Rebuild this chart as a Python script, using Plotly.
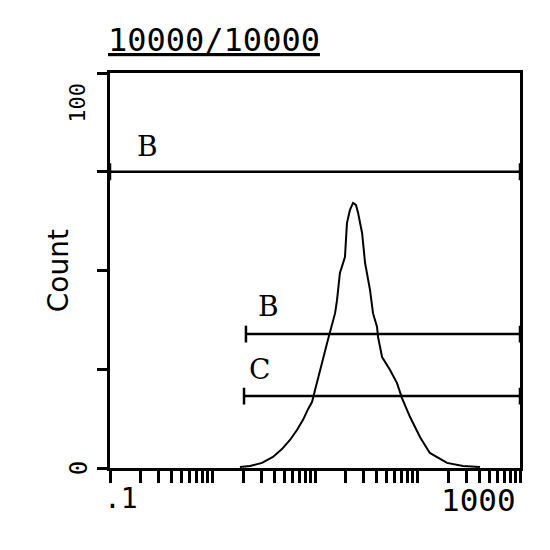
import math
import plotly.graph_objects as go

# Histogram trace (x: channel value on log scale, y: count)
hist_x = [1.85, 2.32, 3.04, 3.89, 4.76, 5.70, 6.67, 7.64, 8.55, 9.35, 10.0, 10.7, 11.7, 13.1,
          14.0, 15.7, 16.4, 17.5, 19.6, 20.5, 21.9, 23.5, 25.1, 26.3, 28.8, 30.8, 34.4, 36.8,
          40.3, 41.2, 45.1, 54.0, 63.1, 70.6, 84.6, 106, 132, 194, 278, 407]
hist_y = [0.25, 0.5, 1.3, 2.8, 4.8, 7.1, 9.6, 12.2, 14.9, 16.7, 19.7, 23.0, 26.6, 31.6,
          34.2, 39.2, 42.5, 49.4, 53.4, 62.0, 65.3, 67.1, 66.6, 64.6, 59.5, 51.9, 45.1, 39.2,
          35.7, 33.2, 28.1, 24.8, 21.5, 17.7, 12.9, 7.8, 3.8, 1.3, 0.5, 0.25]

# Gates: name, start, end, level, label position
gate_names = ["B", "B", "C"]
gate_start = [0.1, 2.12, 2.03]
gate_end = [1000, 1000, 1000]
gate_level = [75, 33.9, 18.2]
gate_label_x = [0.18, 2.7, 2.2]
gate_label_y = [77, 36.5, 20.5]

title_text = "10000/10000"
y_title = "Count"
x_tick_labels = [".1", "1000"]
y_tick_labels = ["0", "100"]

decades = [0.1, 1, 10, 100]
x_ticks = [d * m for d in decades for m in range(1, 10)] + [1000]

fig = go.Figure()

fig.add_trace(go.Scatter(x=hist_x, y=hist_y, mode="lines",
                         line=dict(color="black", width=2), showlegend=False,
                         hoverinfo="skip"))

for name, xs, xe, lv, lx, ly in zip(gate_names, gate_start, gate_end, gate_level,
                                     gate_label_x, gate_label_y):
    fig.add_trace(go.Scatter(x=[xs, xe], y=[lv, lv], mode="lines+markers",
                             line=dict(color="black", width=2.5),
                             marker=dict(symbol="line-ns", size=12,
                                         line=dict(color="black", width=2.5)),
                             showlegend=False, hoverinfo="skip"))
    fig.add_annotation(x=math.log10(lx), y=ly, text=name, showarrow=False,
                       font=dict(family="DejaVu Serif", size=28, color="black"),
                       xanchor="left", yanchor="bottom", borderpad=0)

# Title
fig.add_annotation(xref="paper", yref="paper", x=-0.01, y=1.03, text="<u>" + title_text + "</u>",
                   showarrow=False, xanchor="left", yanchor="bottom",
                   font=dict(family="DejaVu Sans Mono", size=32, color="black"))

# x tick labels
fig.add_annotation(xref="paper", x=-0.02, yref="paper", y=0, text=x_tick_labels[0],
                   showarrow=False, xanchor="left", yanchor="top", yshift=-12,
                   font=dict(family="DejaVu Sans Mono", size=28, color="black"))
fig.add_annotation(xref="paper", x=1, yref="paper", y=0, text=x_tick_labels[1],
                   showarrow=False, xanchor="right", yanchor="top", yshift=-12, xshift=-2,
                   font=dict(family="DejaVu Sans Mono", size=31, color="black"))

# y tick labels (rotated)
fig.add_annotation(xref="paper", x=-0.075, y=0, text=y_tick_labels[0], showarrow=False,
                   textangle=-90, xanchor="center", yanchor="middle",
                   font=dict(family="DejaVu Sans Mono", size=24, color="black"))
fig.add_annotation(xref="paper", x=-0.08, y=92.5, text=y_tick_labels[1], showarrow=False,
                   textangle=-90, xanchor="center", yanchor="middle",
                   font=dict(family="DejaVu Sans Mono", size=22, color="black"))

# y title
fig.add_annotation(xref="paper", yref="paper", x=-0.125, y=0.5, text=y_title, showarrow=False,
                   textangle=-90, xanchor="center", yanchor="middle",
                   font=dict(family="DejaVu Sans", size=28, color="black"))

fig.update_layout(
    width=550, height=550,
    margin=dict(l=102, r=38, t=65, b=90),
    paper_bgcolor="white", plot_bgcolor="white",
    xaxis=dict(type="log", range=[-1, 3], showgrid=False, zeroline=False,
               showline=True, linecolor="black", linewidth=2.5, mirror=True,
               tickvals=x_ticks, ticktext=[""] * len(x_ticks),
               ticks="outside", ticklen=12, tickwidth=2.5, tickcolor="black"),
    yaxis=dict(range=[0, 100], showgrid=False, zeroline=False,
               showline=True, linecolor="black", linewidth=2.5, mirror=True,
               tickvals=[0, 25, 50, 75, 100], ticktext=[""] * 5,
               ticks="outside", ticklen=10, tickwidth=2.5, tickcolor="black"),
)

fig.write_html("out.html")
